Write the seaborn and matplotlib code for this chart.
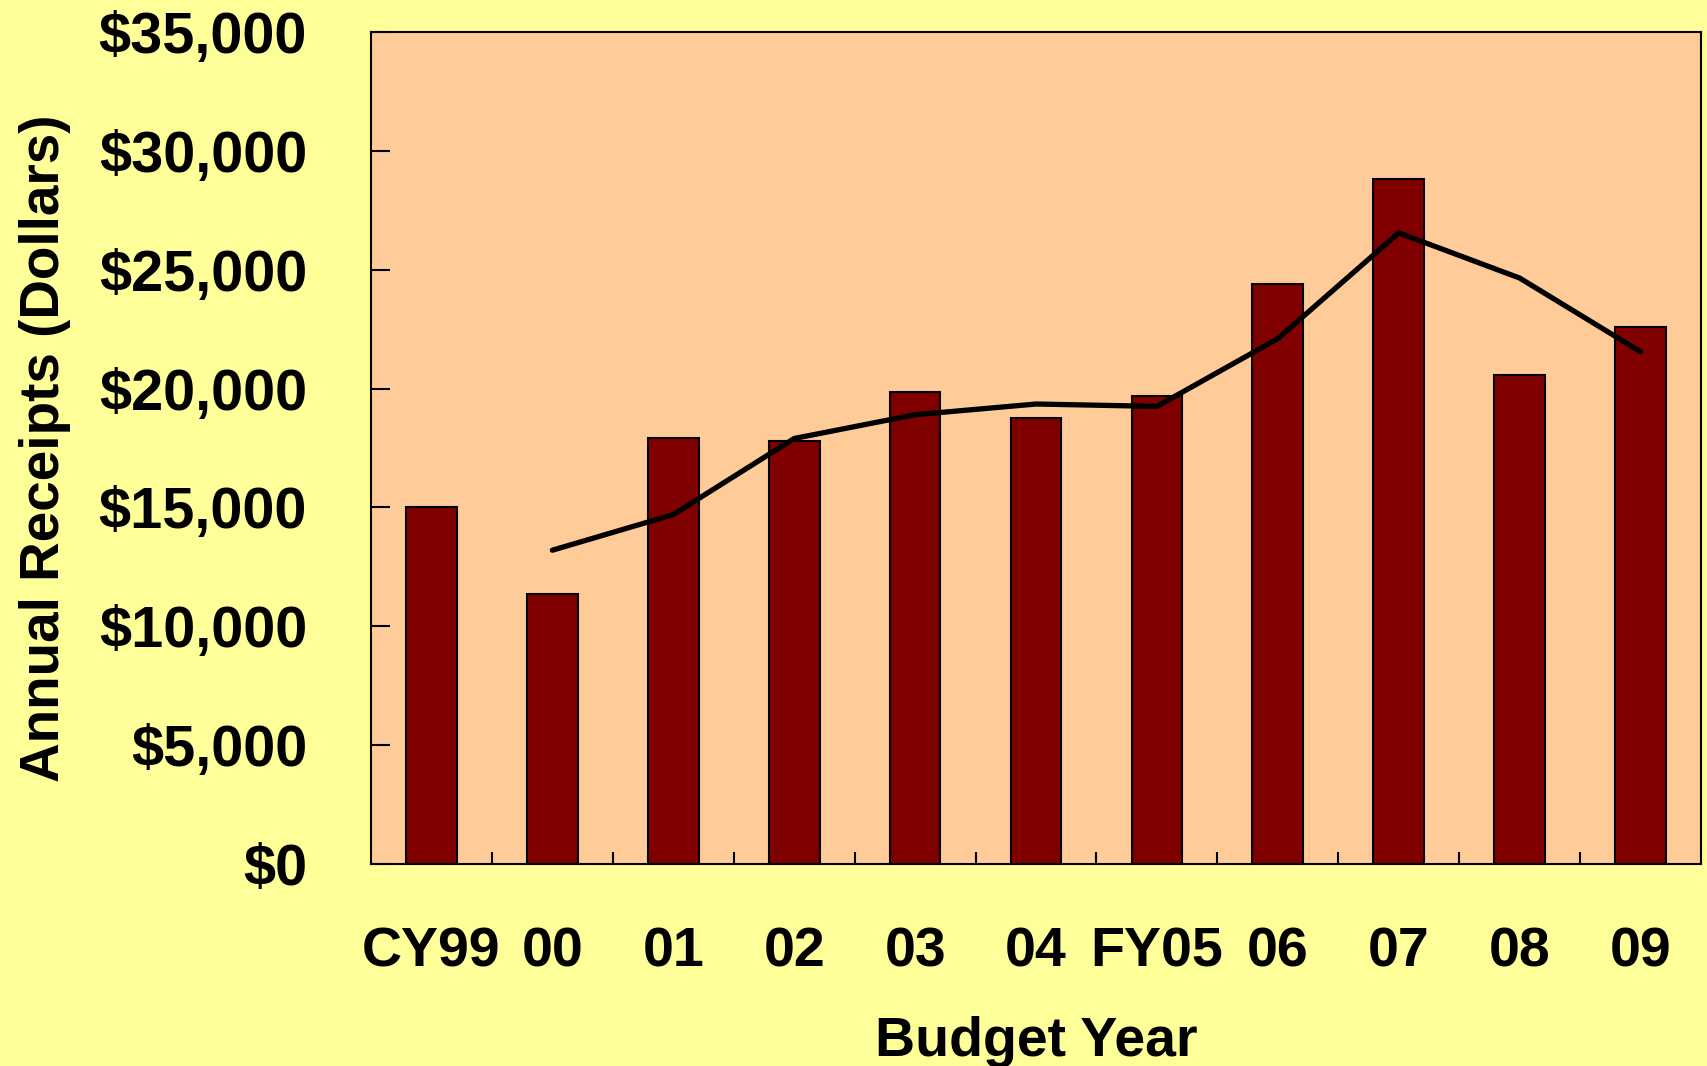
import matplotlib
matplotlib.use("Agg")
import matplotlib.pyplot as plt
import seaborn as sns
import pandas as pd
from matplotlib.ticker import FuncFormatter, FixedLocator

# ---- data ----
categories = ["CY99", "00", "01", "02", "03", "04", "FY05", "06", "07", "08", "09"]
receipts = [15000, 11350, 17930, 17800, 19850, 18750, 19700, 24400, 28800, 20550, 22600]
trend_categories = ["00", "01", "02", "03", "04", "FY05", "06", "07", "08", "09"]
trend_values = [13200, 14700, 17900, 18900, 19350, 19250, 22100, 26550, 24650, 21550]
y_ticks = [0, 5000, 10000, 15000, 20000, 25000, 30000, 35000]

sns.set_theme(style="white")
plt.rcParams["font.family"] = ["Liberation Sans", "DejaVu Sans"]
plt.rcParams["font.weight"] = "bold"

fig = plt.figure(figsize=(17.07, 10.66), dpi=100, facecolor="#FFFF99")
ax = fig.add_axes([371/1707, 1-864/1066, (1701-371)/1707, (864-32)/1066])
ax.set_facecolor("#FFCC99")

df = pd.DataFrame({"year": categories, "receipts": receipts})
sns.barplot(data=df, x="year", y="receipts", order=categories, color="#800000",
            saturation=1, width=0.42, edgecolor="black", linewidth=1.5, ax=ax)

pos = {c: i for i, c in enumerate(categories)}
tdf = pd.DataFrame({"x": [pos[c] for c in trend_categories], "y": trend_values})
sns.lineplot(data=tdf, x="x", y="y", color="black", linewidth=3.8, ax=ax,
             sort=False, estimator=None)

ax.set_xlim(-0.5, len(categories) - 0.5)
ax.set_ylim(0, 35000)
ax.set_xticks(range(len(categories)))
ax.set_xticklabels(categories)
ax.xaxis.set_minor_locator(FixedLocator([i + 0.5 for i in range(len(categories) - 1)]))
ax.set_yticks(y_ticks)
ax.yaxis.set_major_formatter(FuncFormatter(lambda v, p: f"${v:,.0f}"))

ax.tick_params(axis="x", which="both", direction="in", length=9, width=1.5,
               color="black", bottom=True, top=False, pad=45, labelsize=40)
ax.tick_params(axis="y", which="major", direction="in", length=14, width=1.5,
               color="black", left=True, right=False, pad=46, labelsize=41.5)
for lab in ax.get_xticklabels() + ax.get_yticklabels():
    lab.set_fontweight("bold")
    lab.set_color("black")

for s in ax.spines.values():
    s.set_visible(True)
    s.set_color("black")
    s.set_linewidth(1.5)

ax.set_xlabel("Budget Year", fontsize=40, fontweight="bold", color="black", labelpad=27)
ax.set_ylabel("Annual Receipts (Dollars)", fontsize=39.5, fontweight="bold", color="black", labelpad=20)
ax.grid(False)

fig.savefig("out.png", dpi=100, facecolor=fig.get_facecolor())
